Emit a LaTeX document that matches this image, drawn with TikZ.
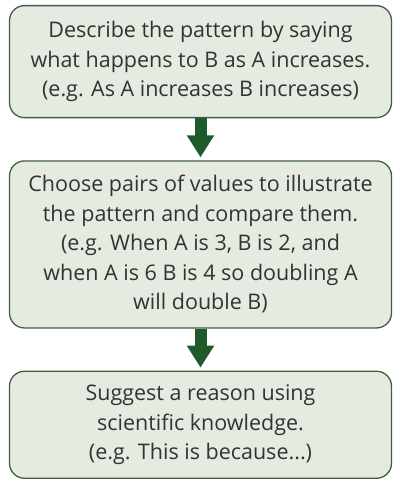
\documentclass[tikz,border=0pt]{standalone}
\usepackage{fontspec}
\setmainfont{Open Sans}
\usetikzlibrary{positioning,arrows.meta}
\definecolor{boxfill}{HTML}{E5EBE0}
\definecolor{boxline}{HTML}{3F5E42}
\definecolor{arrowgreen}{HTML}{1F5A2C}
\begin{document}
\begin{tikzpicture}[node distance=42pt, x=1pt, y=1pt,
  stepbox/.style={draw=boxline, fill=boxfill, line width=1.3pt, rounded corners=15pt, align=center, minimum width=382pt, inner sep=2pt, font=\fontsize{21.5}{29.5}\selectfont, text=black!80},
  flow/.style={draw=arrowgreen, line width=12pt, -{Triangle[width=26pt,length=22pt]}, shorten >=3pt}]
\useasboundingbox (0,0) rectangle (401,-481);
\node[stepbox, minimum height=112pt, anchor=north] (describe) at (200.5,-5) {Describe the pattern by saying\\what happens to B as A increases.\\(e.g. As A increases B increases)};
\node[stepbox, minimum height=167pt, below=of describe] (choose) {Choose pairs of values to illustrate\\the pattern and compare them.\\(e.g. When A is 3, B is 2, and\\when A is 6 B is 4 so doubling A\\will double B)};
\node[stepbox, minimum height=107pt, below=of choose] (suggest) {Suggest a reason using\\scientific knowledge.\\(e.g. This is because...)};
\draw[flow] (describe) -- (choose);
\draw[flow] (choose) -- (suggest);
\end{tikzpicture}
\end{document}
